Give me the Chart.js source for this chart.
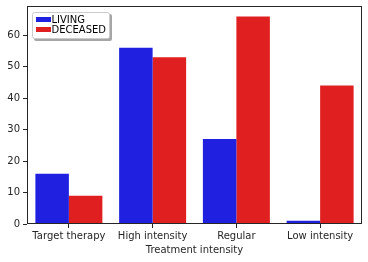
<!DOCTYPE html>
<html><head><meta charset="utf-8">
<script src="https://cdn.jsdelivr.net/npm/chart.js@4/dist/chart.umd.min.js"></script>
<style>html,body{margin:0;padding:0;background:#fff}#w{width:368px;height:262px}</style>
</head><body><div id="w"><canvas id="c" width="368" height="262"></canvas></div>
<script>
const categories = ["Target therapy", "High intensity", "Regular", "Low intensity"];
const livingValues = [16, 56, 27, 1];
const deceasedValues = [9, 53, 66, 44];
const yTicks = [0, 10, 20, 30, 40, 50, 60];
const FONT = "DejaVu Sans";

function rr(ctx, x, y, w, h, r) {
  ctx.beginPath();
  ctx.moveTo(x + r, y);
  ctx.lineTo(x + w - r, y); ctx.quadraticCurveTo(x + w, y, x + w, y + r);
  ctx.lineTo(x + w, y + h - r); ctx.quadraticCurveTo(x + w, y + h, x + w - r, y + h);
  ctx.lineTo(x + r, y + h); ctx.quadraticCurveTo(x, y + h, x, y + h - r);
  ctx.lineTo(x, y + r); ctx.quadraticCurveTo(x, y, x + r, y);
  ctx.closePath();
}

const framePlugin = {
  id: 'frame',
  afterDraw(chart) {
    const {ctx, chartArea: a} = chart;
    ctx.save();
    ctx.strokeStyle = '#262626';
    ctx.lineWidth = 1;
    ctx.strokeRect(Math.round(a.left) + 0.5, Math.round(a.top) + 0.5, Math.round(a.right - a.left) - 1, Math.round(a.bottom - a.top) - 1);
    // legend
    const x = Math.round(a.left) + 5, y = Math.round(a.top) + 6, w = 78, h = 27;
    ctx.fillStyle = 'rgba(0,0,0,0.35)';
    rr(ctx, x + 2, y + 2, w, h, 2); ctx.fill();
    ctx.fillStyle = '#fff';
    rr(ctx, x + 0.5, y + 0.5, w - 1, h - 1, 2); ctx.fill();
    ctx.strokeStyle = '#cccccc';
    ctx.stroke();
    ctx.font = '10px "' + FONT + '"';
    ctx.textBaseline = 'middle';
    chart.data.datasets.forEach((ds, i) => {
      const ry = y + 5 + i * 10;
      ctx.fillStyle = ds.backgroundColor;
      ctx.fillRect(x + 4, ry, 15, 5);
      ctx.fillStyle = '#000';
      ctx.fillText(ds.label, x + 19.5, ry + 3);
    });
    ctx.restore();
  }
};

new Chart(document.getElementById('c'), {
  type: 'bar',
  data: {
    labels: categories,
    datasets: [
      {label: 'LIVING', data: livingValues, backgroundColor: '#2020e0', borderWidth: 0},
      {label: 'DECEASED', data: deceasedValues, backgroundColor: '#e02020', borderWidth: 0}
    ]
  },
  options: {
    responsive: false,
    animation: false,
    devicePixelRatio: 1,
    layout: {padding: {left: 0, right: 6, top: 6, bottom: 6}},
    datasets: {bar: {categoryPercentage: 0.8, barPercentage: 1.0}},
    plugins: {legend: {display: false}, tooltip: {enabled: false}},
    scales: {
      x: {
        grid: {offset: false, drawOnChartArea: false, drawTicks: true, tickLength: 4, color: '#262626'},
        border: {display: false},
        ticks: {color: '#262626', font: {family: FONT, size: 10}, padding: 2, maxRotation: 0},
        title: {display: true, text: 'Treatment intensity', color: '#262626', font: {family: FONT, size: 10}, padding: {top: 0, bottom: 0}},
        afterFit(s) { s.height = 32; s.paddingLeft = 0; s.paddingRight = 0; }
      },
      y: {
        min: 0, max: 69.3,
        afterBuildTicks(s) { s.ticks = yTicks.map(v => ({value: v})); },
        grid: {drawOnChartArea: false, drawTicks: true, tickLength: 4, color: '#262626'},
        border: {display: false},
        ticks: {color: '#262626', font: {family: FONT, size: 10}, padding: 3},
        afterFit(s) { s.width = 27; s.paddingTop = 0; s.paddingBottom = 0; }
      }
    }
  },
  plugins: [framePlugin]
});
</script>
</body></html>
